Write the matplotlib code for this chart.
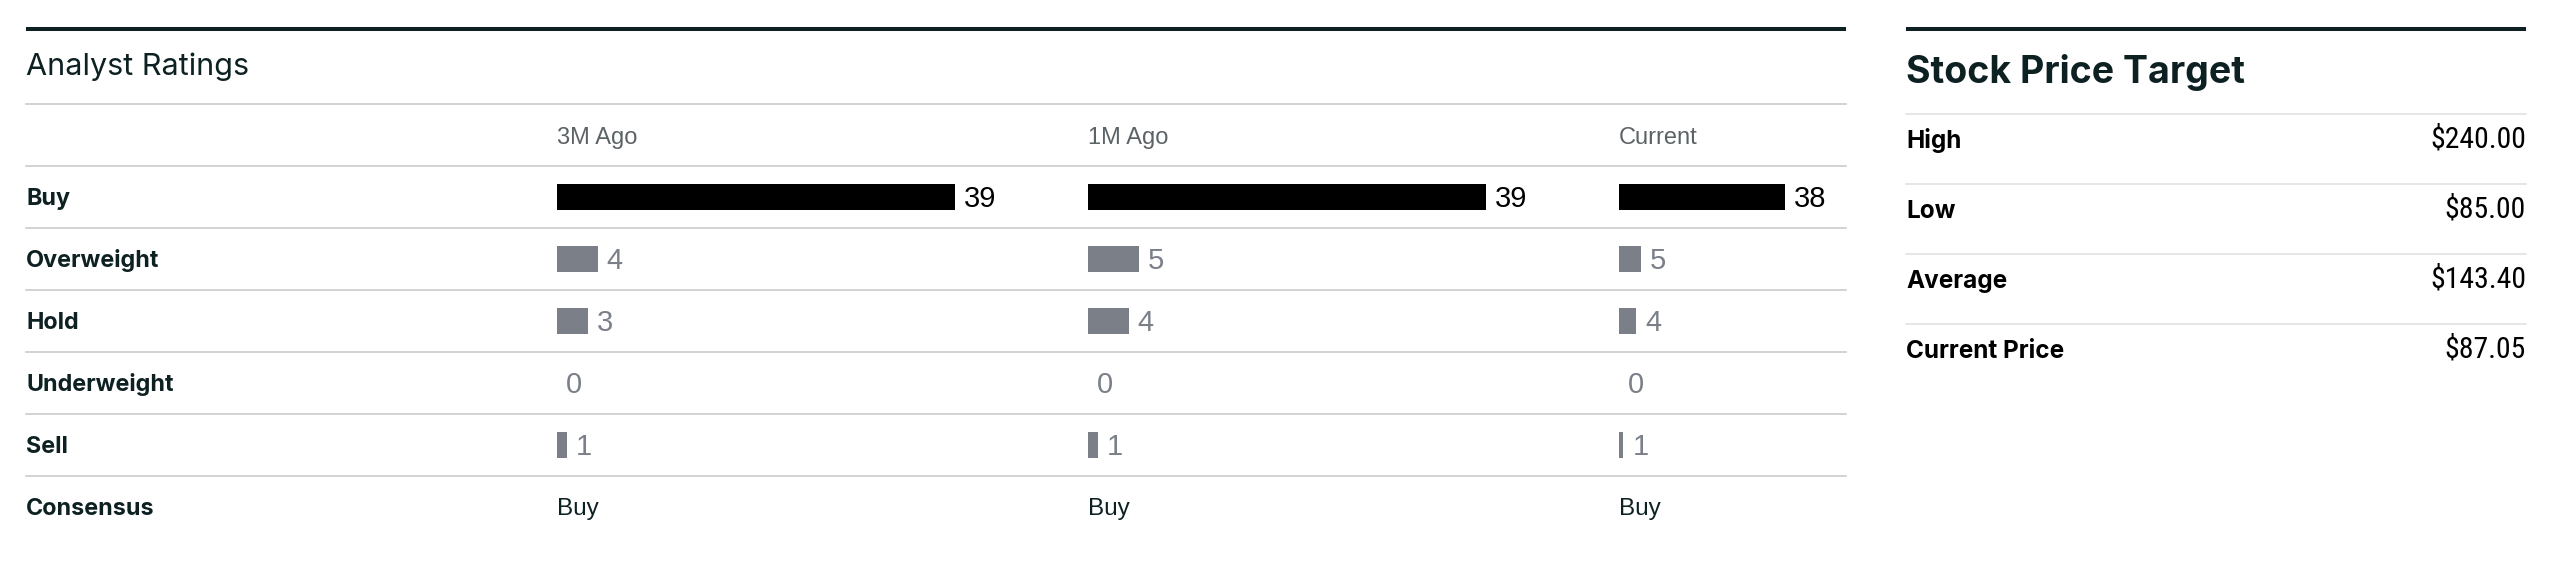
import numpy as np
import matplotlib
matplotlib.use("Agg")
import matplotlib.pyplot as plt

plt.rcParams['font.family'] = ['Inter', 'Roboto', 'DejaVu Sans']
HELV = ["Liberation Sans", "Roboto", "DejaVu Sans"]

# data
ratings = ["Buy", "Overweight", "Hold", "Underweight", "Sell"]
periods = ["3M Ago", "1M Ago", "Current"]
counts_3m = [39, 4, 3, 0, 1]
counts_1m = [39, 5, 4, 0, 1]
counts_now = [38, 5, 4, 0, 1]
consensus = ["Buy", "Buy", "Buy"]
target_labels = ["High", "Low", "Average", "Current Price"]
target_values = [240.00, 85.00, 143.40, 87.05]

# colours
DARK = "#0d2022"
RULE = "#c5c8c8"
RULE_LIGHT = "#dedfdf"
HEAD = "#5c6366"
GREY_BAR = "#7a7f88"

W, H = 2568, 572
fig = plt.figure(figsize=(W / 100, H / 100), dpi=100)

# background axes in pixel units for rules and labels
bg = fig.add_axes([0, 0, 1, 1])
bg.set_xlim(0, W)
bg.set_ylim(H, 0)
bg.axis("off")

# ---- Analyst Ratings table ----
left, right = 26, 1846
bg.plot([left, right], [29, 29], color=DARK, lw=2.9, solid_capstyle="butt")
bg.text(left, 75, "Analyst Ratings", fontsize=22, color=DARK, va="baseline")

row_h = 62
first_rule = 104
for k in range(7):
    y = first_rule + k * row_h
    bg.plot([left, right], [y, y], color=RULE, lw=1.1)

for i, r in enumerate(ratings):
    bg.text(left, first_rule + (i + 1) * row_h + 39, r, fontsize=16.8,
            fontweight="bold", color=DARK, va="baseline")
bg.text(left, first_rule + 6 * row_h + 39, "Consensus", fontsize=16.8,
        fontweight="bold", color=DARK, va="baseline")

col_left = [557, 1088, 1619]
col_right = [1088, 1619, 1846]
xmax = max(counts_3m + counts_1m + counts_now) * 4 / 3
series = [counts_3m, counts_1m, counts_now]

for c, (name, vals) in enumerate(zip(periods, series)):
    x0 = col_left[c]
    bg.text(x0, first_rule + 40, name, fontsize=17, color=HEAD, va="baseline",
            family=HELV)
    bg.text(x0, first_rule + 6 * row_h + 39, consensus[c], fontsize=17.5,
            color=DARK, va="baseline", family=HELV)

    y_top = first_rule + row_h
    y_bot = first_rule + 6 * row_h
    ax = fig.add_axes([x0 / W, 1 - y_bot / H, (col_right[c] - x0) / W,
                       (y_bot - y_top) / H])
    ax.set_xlim(0, xmax)
    ax.set_ylim(len(ratings) - 0.5, -0.5)
    ax.axis("off")
    ypos = np.arange(len(ratings))
    colors = ["#000000"] + [GREY_BAR] * (len(ratings) - 1)
    ax.barh(ypos, vals, height=0.43, color=colors, linewidth=0)
    for i, v in enumerate(vals):
        ax.annotate(str(v), (v, i), xytext=(6.5, -7.0), textcoords="offset points",
                    va="baseline", ha="left", fontsize=21,
                    color="#000000" if i == 0 else GREY_BAR, family=HELV)

# ---- Stock Price Target ----
rl, rr = 1906, 2526
bg.plot([rl, rr], [29, 29], color=DARK, lw=2.9, solid_capstyle="butt")
bg.text(rl, 83, "Stock Price Target", fontsize=27, fontweight="bold",
        color=DARK, va="baseline")
for k, (lab, val) in enumerate(zip(target_labels, target_values)):
    y = 114 + k * 70
    bg.plot([rl, rr], [y, y], color=RULE_LIGHT, lw=1.1)
    bg.text(rl, y + 34, lab, fontsize=17.5, fontweight="bold", color="#000000",
            va="baseline")
    bg.text(rr, y + 34, "${:.2f}".format(val), fontsize=21.4, color="#000000",
            va="baseline", ha="right", fontstretch="condensed",
            family=["Roboto Condensed", "Liberation Sans Narrow", "DejaVu Sans"])

fig.savefig("out.png", dpi=100)
